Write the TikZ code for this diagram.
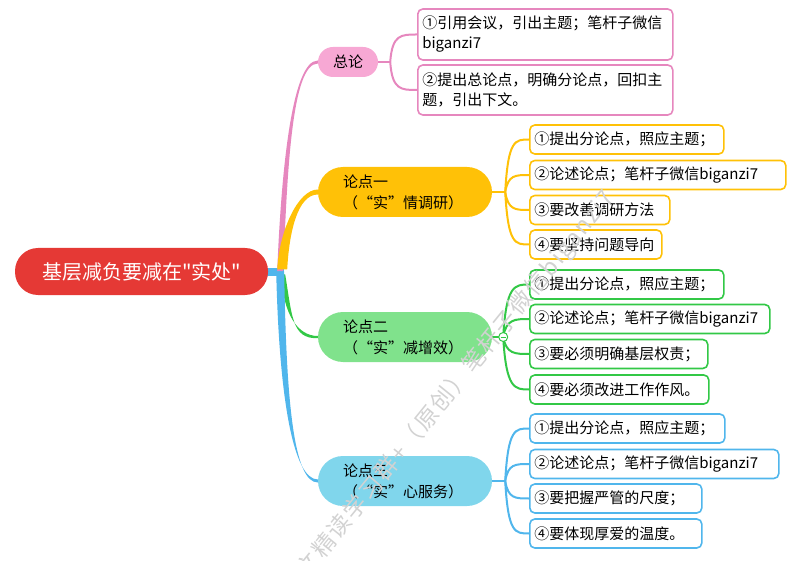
\documentclass[tikz,border=0pt]{standalone}
\usepackage{fontspec}
\setmainfont{Noto Sans CJK SC}
\newfontfamily\hdrfont[RawFeature=+fwid]{Noto Sans CJK SC}
\newfontfamily\rootfont[Ligatures=TeXOff]{Noto Sans CJK SC}
\newfontfamily\wmfont[LetterSpace=8]{Noto Sans CJK SC}
\usetikzlibrary{calc,backgrounds}
\definecolor{rootred}{RGB}{229,57,53}
\definecolor{pinkfill}{RGB}{247,168,212}
\definecolor{pinkline}{RGB}{230,135,190}
\definecolor{yel}{RGB}{255,193,7}
\definecolor{grnfill}{RGB}{128,226,140}
\definecolor{grnline}{RGB}{50,200,70}
\definecolor{blufill}{RGB}{128,214,236}
\definecolor{bluline}{RGB}{80,182,236}
\begin{document}
\begin{tikzpicture}[x=1pt,y=-1pt,
  leaf/.style={draw=#1, line width=1.6pt, fill=white, rounded corners=5pt, anchor=west,
    align=left, inner xsep=4.5pt, inner ysep=0pt, minimum height=29pt,
    font=\fontsize{15}{20}\selectfont},
  topic/.style={fill=#1, rounded corners=25pt, minimum height=50pt, inner xsep=25pt,
    inner ysep=0pt, text width=124pt, align=left, font=\hdrfont\fontsize{15}{21}\selectfont},
  sub/.style={draw=#1, line width=2pt},
]
\useasboundingbox (0,0) rectangle (800,561);

% root and main topics
\node[fill=rootred, rounded corners=23pt, minimum width=253pt, minimum height=47pt,
  text=white, font=\rootfont\fontsize{20}{24}\selectfont] (root) at (141.5,271.5) {基层减负要减在"实处"};
\node[fill=pinkfill, rounded corners=15pt, minimum width=60pt, minimum height=30pt,
  font=\fontsize{15}{18}\selectfont] (zl) at (348,62) {总论};
\node[topic=yel] (t1) at (405,192) {论点一\\（“实”情调研）};
\node[topic=grnfill] (t2) at (405,337) {论点二\\（“实”减增效）};
\node[topic=blufill] (t3) at (405,481) {论点三\\（“实”心服务）};

% leaves
\node[leaf=pinkline, text width=246pt, minimum height=51pt] (p1) at (417,34.5) {①引用会议，引出主题；笔杆子微信\\biganzi7};
\node[leaf=pinkline, text width=246pt, minimum height=50pt] (p2) at (417,90) {②提出总论点，明确分论点，回扣主\\题，引出下文。};

\node[leaf=yel, text width=185pt] (y1) at (529,139.5) {①提出分论点，照应主题；};
\node[leaf=yel, text width=247pt] (y2) at (529,175) {②论述论点；笔杆子微信biganzi7};
\node[leaf=yel, text width=131pt] (y3) at (529,210) {③要改善调研方法};
\node[leaf=yel, text width=123pt] (y4) at (529,244.5) {④要坚持问题导向};

\node[leaf=grnline, text width=185pt] (g1) at (529,284.5) {①提出分论点，照应主题；};
\node[leaf=grnline, text width=231pt] (g2) at (529,319) {②论述论点；笔杆子微信biganzi7};
\node[leaf=grnline, text width=169pt] (g3) at (529,354) {③要必须明确基层权责；};
\node[leaf=grnline, text width=170pt] (g4) at (529,389.5) {④要必须改进工作作风。};

\node[leaf=bluline, text width=186pt] (b1) at (529,428.5) {①提出分论点，照应主题；};
\node[leaf=bluline, text width=240pt] (b2) at (529,464) {②论述论点；笔杆子微信biganzi7};
\node[leaf=bluline, text width=163pt] (b3) at (529,498.5) {③要把握严管的尺度；};
\node[leaf=bluline, text width=163pt] (b4) at (529,533.5) {④要体现厚爱的温度。};

% hubs
\coordinate (hub) at ($(root.east)+(12,0)$);
\coordinate (ph) at ($(zl.east)+(12,0)$);
\coordinate (yh) at ($(t1.east)+(13,0)$);
\coordinate (gh) at ($(t2.east)+(11,0)$);
\coordinate (bh) at ($(t3.east)+(13,0)$);

\begin{scope}[on background layer]
  % stub
  \fill[bluline] ($(root.east)+(-4,-3.5)$) rectangle ($(hub)+(4,4.5)$);
  % pink branch
  \fill[pinkline] ($(hub)+(-3,0)$) .. controls ($(hub)+(1,-100)$) and ($(zl.west)+(-26,-1.5)$) .. ($(zl.west)+(0,-1.5)$)
    -- ($(zl.west)+(0,1.5)$) .. controls ($(zl.west)+(-26,1.5)$) and ($(hub)+(7,-100)$) .. ($(hub)+(3,0)$) -- cycle;
  % yellow branch
  \fill[yel] ($(hub)+(-3,-2)$) .. controls ($(hub)+(-1,-40)$) and ($(t1.west)+(-20,-2.5)$) .. ($(t1.west)+(0,-2.5)$)
    -- ($(t1.west)+(0,2.5)$) .. controls ($(t1.west)+(-20,2.5)$) and ($(hub)+(9,-40)$) .. ($(hub)+(7,-2)$) -- cycle;
  % green branch
  \fill[grnline] ($(hub)+(1,3)$) .. controls ($(hub)+(3,43)$) and ($(t2.west)+(-20,-1)$) .. ($(t2.west)+(0,-1)$)
    -- ($(t2.west)+(0,1.2)$) .. controls ($(t2.west)+(-26,2)$) and ($(hub)+(12,45)$) .. ($(hub)+(5,3)$) -- cycle;
  % blue branch
  \fill[bluline] ($(hub)+(-4,0)$) .. controls ($(hub)+(-1,130)$) and ($(t3.west)+(-24,-1.5)$) .. ($(t3.west)+(0,-1.5)$)
    -- ($(t3.west)+(0,1.5)$) .. controls ($(t3.west)+(-24,1.5)$) and ($(hub)+(6,130)$) .. ($(hub)+(4,0)$) -- cycle;

  % sub branches
  \draw[sub=pinkline] (zl.east) -- (ph);
  \foreach \c in {p1,p2}
    \draw[sub=pinkline] (ph) .. controls ($(ph |- \c.west)+(2,0)$) and ($(\c.west)+(-16,0)$) .. (\c.west);
  \draw[sub=yel] (t1.east) -- (yh);
  \foreach \c in {y1,y2,y3,y4}
    \draw[sub=yel] (yh) .. controls ($(yh |- \c.west)+(3,0)$) and ($(\c.west)+(-14,0)$) .. (\c.west);
  \draw[sub=grnline] (t2.east) -- (gh);
  \foreach \c in {g1,g2,g3,g4}
    \draw[sub=grnline] (gh) .. controls ($(gh |- \c.west)+(3,0)$) and ($(\c.west)+(-14,0)$) .. (\c.west);
  \draw[sub=bluline] (t3.east) -- (bh);
  \foreach \c in {b1,b2,b3,b4}
    \draw[sub=bluline] (bh) .. controls ($(bh |- \c.west)+(3,0)$) and ($(\c.west)+(-14,0)$) .. (\c.west);
\end{scope}

% collapse marker on green hub
\node[circle, draw=grnline, fill=white, line width=1pt, minimum size=9pt, inner sep=0pt] (gc) at (gh) {};
\draw[grnline, line width=0.8pt] ($(gc.center)+(-2.5,0)$) -- ($(gc.center)+(2.5,0)$);

% watermark
\begin{scope}
  \clip (0,0) rectangle (800,561);
  \node[font=\wmfont\fontsize{23}{23}\selectfont, text=gray!35, rotate=51, anchor=west, inner sep=0pt]
    (wm) at (302,575) {文精读学习群+（原创）笔杆子微信biganzi7};
\end{scope}
\end{tikzpicture}
\end{document}
